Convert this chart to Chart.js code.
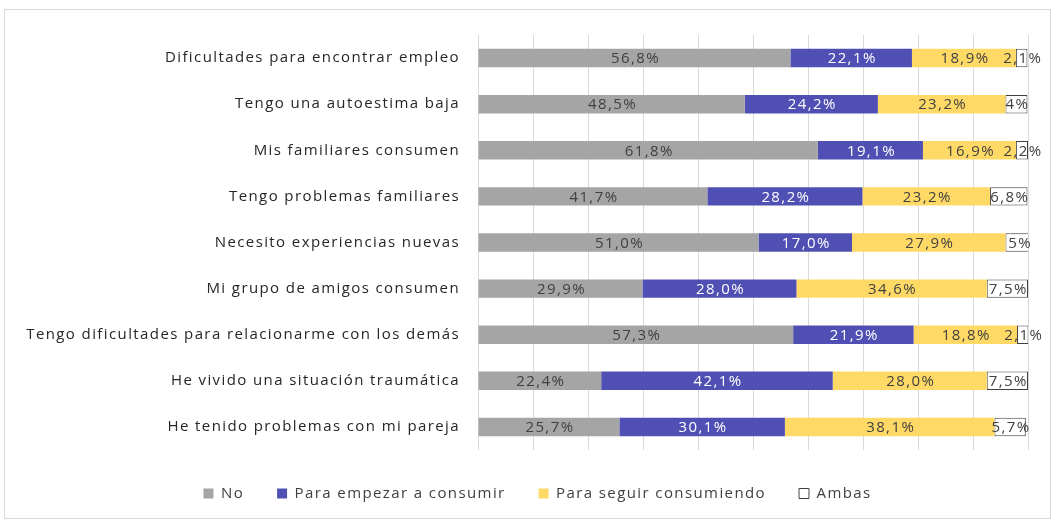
<!DOCTYPE html>
<html>
<head>
<meta charset="utf-8">
<script src="https://cdn.jsdelivr.net/npm/chart.js"></script>
<style>
  body { margin: 0; background: #fff; }
  #box {
    position: absolute; left: 4px; top: 9px;
    width: 1045px; height: 508px;
    border: 1px solid #d9d9d9;
  }
</style>
</head>
<body>
<div id="box"><canvas id="graph"></canvas></div>
<script>
const categories = [
    "Dificultades para encontrar empleo",
    "Tengo una autoestima baja",
    "Mis familiares consumen",
    "Tengo problemas familiares",
    "Necesito experiencias nuevas",
    "Mi grupo de amigos consumen",
    "Tengo dificultades para relacionarme con los demás",
    "He vivido una situación traumática",
    "He tenido problemas con mi pareja"
];
const no = [56.8, 48.5, 61.8, 41.7, 51.0, 29.9, 57.3, 22.4, 25.7];
const empezar = [22.1, 24.2, 19.1, 28.2, 17.0, 28.0, 21.9, 42.1, 30.1];
const seguir = [18.9, 23.2, 16.9, 23.2, 27.9, 34.6, 18.8, 28.0, 38.1];
const ambas = [2.1, 4, 2.2, 6.8, 5, 7.5, 2.1, 7.5, 5.7];
const ambasLabels = ["2,1%", "4%", "2,2%", "6,8%", "5%", "7,5%", "2,1%", "7,5%", "5,7%"];

const textFont = "'Open Sans', sans-serif";
const spacing = "1.4px";

function fmt(v)
{
    return v.toFixed(1).replace(".", ",") + "%";
}

// the original text is spread out, canvas resets this on resize so set it again each time
const letterSpacing = {
    id: "letterSpacing",
    beforeUpdate(chart) { chart.ctx.letterSpacing = spacing; },
    beforeDraw(chart) { chart.ctx.letterSpacing = spacing; }
};

// legend sits a bit right of the canvas centre in the original
const legendShift = {
    id: "legendShift",
    afterLayout(chart)
    {
        chart.legend.left += 21;
        chart.legend.right += 21;
    }
};

// writes the value in the middle of each bar segment
const barLabels = {
    id: "barLabels",
    afterDatasetsDraw(chart)
    {
        const ctx = chart.ctx;
        ctx.save();
        ctx.font = "15px " + textFont;
        ctx.textAlign = "center";
        ctx.textBaseline = "middle";
        chart.data.datasets.forEach((ds, i) => {
            const meta = chart.getDatasetMeta(i);
            meta.data.forEach((bar, j) => {
                let text = ds.labels ? ds.labels[j] : fmt(ds.data[j]);
                ctx.fillStyle = ds.labelColor;
                ctx.fillText(text, (bar.x + bar.base) / 2 + 1, bar.y + 1);
            });
        });
        ctx.restore();
    }
};

new Chart(document.getElementById("graph"), {
    type: "bar",
    data: {
        labels: categories,
        datasets: [
            { label: "No", data: no, backgroundColor: "#a5a5a5", labelColor: "#404040" },
            { label: "Para empezar a consumir", data: empezar, backgroundColor: "#5050b4", labelColor: "#ffffff" },
            { label: "Para seguir consumiendo", data: seguir, backgroundColor: "#ffd966", labelColor: "#404040" },
            { label: "Ambas", data: ambas, labels: ambasLabels, backgroundColor: "#ffffff",
              borderColor: "#404040", borderWidth: 1, borderSkipped: false, labelColor: "#404040" }
        ]
    },
    options: {
        indexAxis: "y",
        responsive: true,
        maintainAspectRatio: false,
        animation: false,
        barPercentage: 0.4,
        categoryPercentage: 1,
        layout: { padding: { top: 25, right: 22, bottom: 7 } },
        scales: {
            x: {
                stacked: true,
                min: 0,
                max: 100,
                ticks: { display: false, stepSize: 10 },
                grid: { color: "#d9d9d9", drawTicks: false },
                border: { display: false },
                afterFit(scale) { scale.height = 3; }
            },
            y: {
                stacked: true,
                grid: { display: false },
                border: { display: false },
                ticks: { color: "#262626", padding: 10, font: { family: textFont, size: 15 } },
                afterFit(scale) { scale.width = 473; }
            }
        },
        plugins: {
            legend: {
                position: "bottom",
                labels: {
                    boxWidth: 10,
                    boxHeight: 10,
                    padding: 33,
                    color: "#404040",
                    font: { family: textFont, size: 15 }
                }
            },
            tooltip: { enabled: false }
        }
    },
    plugins: [letterSpacing, legendShift, barLabels]
});
</script>
</body>
</html>
